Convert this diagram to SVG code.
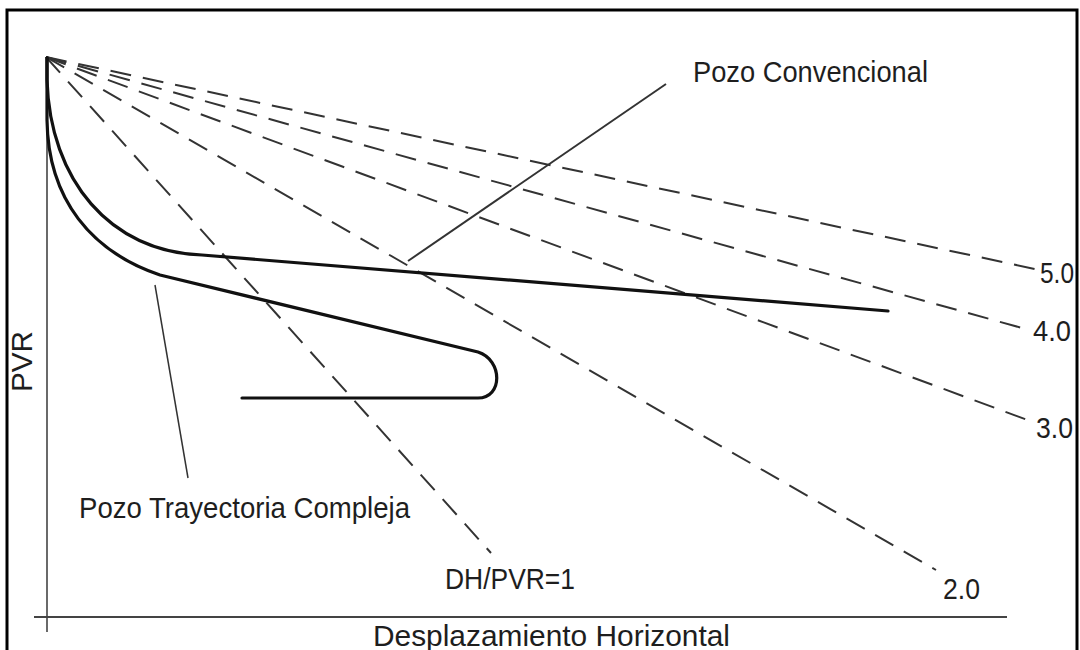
<svg xmlns="http://www.w3.org/2000/svg" width="1080" height="650" viewBox="0 0 1080 650">
<style>
.t{font-family:"Liberation Sans",Arial,sans-serif;font-size:30px;fill:#1e1e1e}
.d{stroke:#333;stroke-width:2;stroke-dasharray:21 12;fill:none}
.w{stroke:#111;stroke-width:3.2;fill:none;stroke-linecap:round;stroke-linejoin:round}
.ax{stroke:#444;fill:none}
.ld{stroke:#333;fill:none}
</style>
<rect x="0" y="0" width="1080" height="650" fill="#fff"/>
<g id="axes">
<line class="ax" x1="47" y1="57" x2="47" y2="632" stroke-width="1.6"/>
<line class="ax" x1="34" y1="617" x2="1007" y2="617" stroke-width="2.2" stroke="#555"/>
</g>
<g id="ratio-lines">
<line class="d" x1="46" y1="57" x2="1035" y2="269"/>
<line class="d" x1="46" y1="57" x2="1022" y2="328"/>
<line class="d" x1="46" y1="57" x2="1033" y2="422"/>
<line class="d" x1="46" y1="57" x2="936" y2="570"/>
<line class="d" x1="46" y1="57" x2="491" y2="553"/>
</g>
<g id="wells">
<path id="pozo-convencional" class="w" d="M47,58 L47,80 C50,180 110,252 202,255 L888,311"/>
<path id="pozo-compleja" class="w" d="M47,58 L47,120 C48,200 92,252 160,275 L478,352 C503,360 503,398 478,398 L242,398"/>
</g>
<g id="leaders">
<line class="ld" x1="408" y1="261" x2="666" y2="84" stroke-width="2"/>
<line class="ld" x1="155" y1="285" x2="188" y2="478" stroke-width="1.5"/>
</g>
<g id="labels">
<text class="t" x="693" y="82" textLength="235" lengthAdjust="spacingAndGlyphs">Pozo Convencional</text>
<text class="t" x="79" y="518" textLength="331" lengthAdjust="spacingAndGlyphs">Pozo Trayectoria Compleja</text>
<text class="t" x="445" y="589" textLength="130" lengthAdjust="spacingAndGlyphs">DH/PVR=1</text>
<text class="t" x="943" y="599" textLength="37" lengthAdjust="spacingAndGlyphs">2.0</text>
<text class="t" x="1040" y="283" textLength="34" lengthAdjust="spacingAndGlyphs">5.0</text>
<text class="t" x="1033" y="341" textLength="38" lengthAdjust="spacingAndGlyphs">4.0</text>
<text class="t" x="1036" y="438" textLength="37" lengthAdjust="spacingAndGlyphs">3.0</text>
<text class="t" x="373" y="646" textLength="357" lengthAdjust="spacingAndGlyphs">Desplazamiento Horizontal</text>
<text class="t" transform="translate(32,392) rotate(-90)" x="0" y="0" font-size="27" textLength="61" lengthAdjust="spacingAndGlyphs">PVR</text>
</g>
<rect id="frame" x="7" y="10" width="1070" height="660" fill="none" stroke="#000" stroke-width="3"/>
</svg>
